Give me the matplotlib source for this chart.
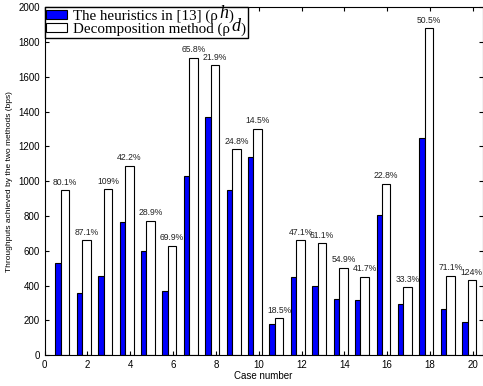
import numpy as np
import matplotlib
matplotlib.use('Agg')
import matplotlib.pyplot as plt

# throughputs (bps)
cases = np.arange(1, 21)
heuristic = [527, 354, 455, 765, 600, 371, 1032, 1370, 947, 1139,
             179, 448, 398, 324, 319, 803, 292, 1250, 267, 192]
decomp = [947, 661, 953, 1089, 774, 628, 1710, 1668, 1183, 1302,
          213, 661, 643, 501, 451, 987, 390, 1881, 456, 430]
gains = ['80.1%', '87.1%', '109%', '42.2%', '28.9%', '69.9%', '65.8%', '21.9%', '24.8%', '14.5%',
         '18.5%', '47.1%', '61.1%', '54.9%', '41.7%', '22.8%', '33.3%', '50.5%', '71.1%', '124%']
legend_labels = ['The heuristics in [13] (ρ   )', 'Decomposition method (ρ   )']
legend_sups = ['h', 'd']

plt.rcParams['font.family'] = ['Liberation Sans', 'DejaVu Sans']

fig = plt.figure(figsize=(4.83, 3.86), dpi=100)
ax = fig.add_axes([0.0925, 0.0803, 0.9065, 0.9003])

ax.bar(cases - 0.375, heuristic, width=0.25, color='#0000ff', edgecolor='black', linewidth=0.8,
       label=legend_labels[0])
ax.bar(cases - 0.05, decomp, width=0.4, color='white', edgecolor='black', linewidth=0.8,
       label=legend_labels[1])

for x, y, s in zip(cases, decomp, gains):
    ax.annotate(s, (x - 0.05, y), xytext=(0, 2.5), textcoords='offset points',
                ha='center', va='bottom', fontsize=6.2, color='#222222')

ax.set_xlim(0, 20.45)
ax.set_ylim(0, 2000)
ax.set_xticks(np.arange(0, 21, 2))
ax.set_yticks(np.arange(0, 2001, 200))
ax.tick_params(which='both', direction='in', right=True, top=True, labelsize=7, length=3)
ax.set_xlabel('Case number', fontsize=7, labelpad=1)
ax.set_ylabel('Throughputs achieved by the two methods (bps)', fontsize=6, labelpad=4)

leg = ax.legend(loc='upper left', borderaxespad=0, fancybox=False, framealpha=1,
                edgecolor='black', handlelength=1.4, handleheight=0.5, handletextpad=0.4,
                borderpad=0.12, labelspacing=0.0,
                prop={'family': 'Liberation Serif', 'size': 10.8})
leg.get_frame().set_linewidth(1.0)

# big superscripts poking out of the legend rows, like the original
for t, sup in zip(leg.get_texts(), legend_sups):
    ax.annotate(sup, xy=(1, 0), xycoords=t, xytext=(-7.5, 3.5), textcoords='offset points',
                ha='center', va='baseline', fontsize=13, fontfamily='Liberation Serif',
                fontstyle='italic', annotation_clip=False, zorder=6)

fig.set_facecolor('white')
plt.savefig('out.png', dpi=100)
